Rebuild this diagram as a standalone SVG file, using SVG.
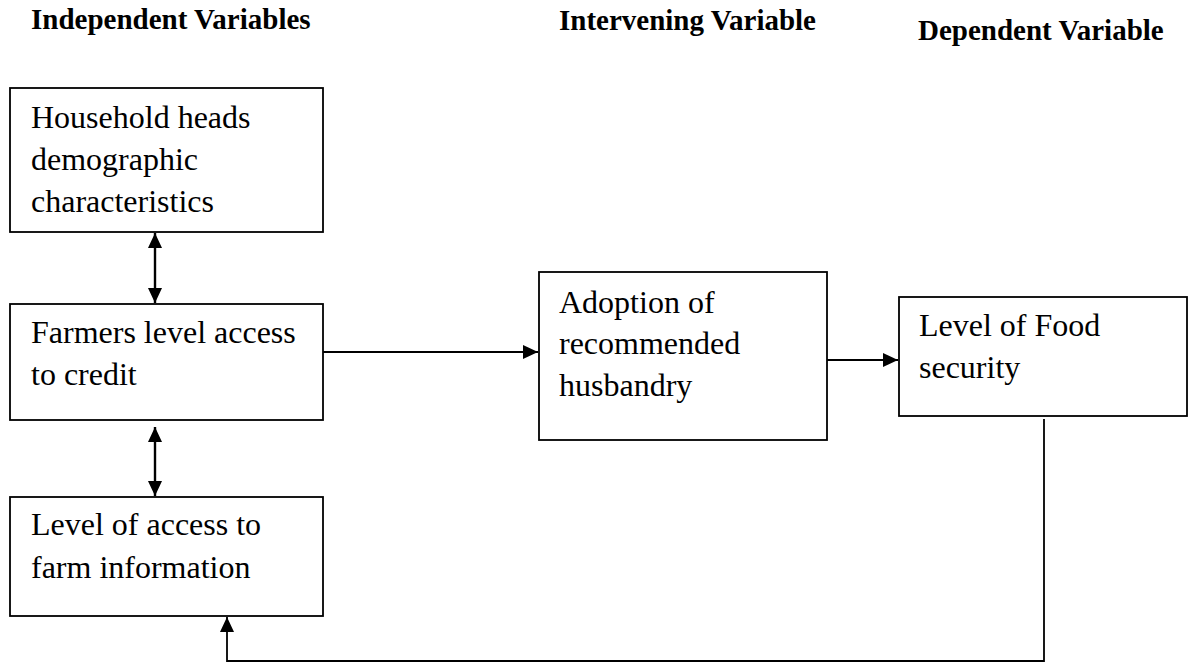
<svg xmlns="http://www.w3.org/2000/svg" width="1189" height="664" viewBox="0 0 1189 664">
<style>
.box{fill:#fff;stroke:#000;stroke-width:1.8}
.t{font-family:"Liberation Serif","Times New Roman",serif;font-size:32px;fill:#000}
.h{font-family:"Liberation Serif","Times New Roman",serif;font-size:29px;font-weight:bold;fill:#000}
.c{fill:none;stroke:#000;stroke-width:1.8}
.c2{fill:none;stroke:#000;stroke-width:2.4}
</style>
<defs>
<marker id="ah" markerUnits="userSpaceOnUse" markerWidth="16" markerHeight="14" refX="15" refY="7" orient="auto-start-reverse" viewBox="0 0 16 14">
<path d="M0,0 L15,7 L0,14 z" fill="#000"/>
</marker>
</defs>
<rect width="1189" height="664" fill="#fff"/>
<g id="headings">
<text class="h" x="31" y="29">Independent Variables</text>
<text class="h" x="559" y="30">Intervening Variable</text>
<text class="h" x="918" y="40">Dependent Variable</text>
</g>
<g id="connectors">
<line class="c2" x1="155" y1="233" x2="155" y2="303" marker-start="url(#ah)" marker-end="url(#ah)"/>
<line class="c2" x1="155" y1="427" x2="155" y2="496" marker-start="url(#ah)" marker-end="url(#ah)"/>
<line class="c" x1="323" y1="352" x2="538" y2="352" marker-end="url(#ah)"/>
<line class="c" x1="827" y1="360" x2="898" y2="360" marker-end="url(#ah)"/>
<polyline class="c" points="1044,419 1044,661 227,661 227,617" marker-end="url(#ah)"/>
</g>
<g id="n1">
<rect class="box" x="10" y="88" width="313" height="144"/>
<text class="t" x="31" y="128">Household heads</text>
<text class="t" x="31" y="170">demographic</text>
<text class="t" x="31" y="212">characteristics</text>
</g>
<g id="n2">
<rect class="box" x="10" y="304" width="313" height="116"/>
<text class="t" x="31" y="343">Farmers level access</text>
<text class="t" x="31" y="385">to credit</text>
</g>
<g id="n3">
<rect class="box" x="10" y="497" width="313" height="119"/>
<text class="t" x="31" y="535">Level of access to</text>
<text class="t" x="31" y="578">farm information</text>
</g>
<g id="n4">
<rect class="box" x="539" y="272" width="288" height="168"/>
<text class="t" x="559" y="313">Adoption of</text>
<text class="t" x="559" y="354">recommended</text>
<text class="t" x="559" y="396">husbandry</text>
</g>
<g id="n5">
<rect class="box" x="899" y="297" width="288" height="119"/>
<text class="t" x="919" y="336">Level of Food</text>
<text class="t" x="919" y="378">security</text>
</g>
</svg>
